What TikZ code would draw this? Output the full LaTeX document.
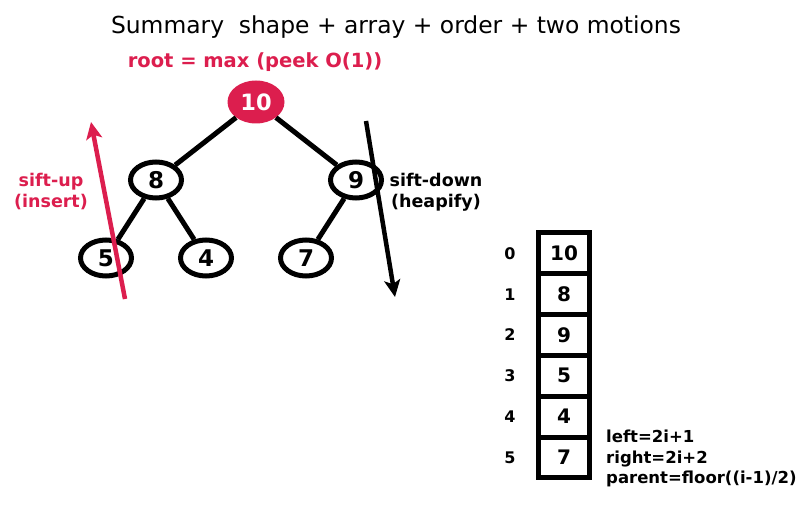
\documentclass[tikz,border=0pt]{standalone}
\usepackage{fontspec}
\setmainfont{DejaVu Sans}
\usetikzlibrary{shapes.geometric,arrows.meta}
\definecolor{crim}{RGB}{220,30,78}
\tikzset{
  hnode/.style={ellipse,draw=black,line width=5pt,minimum width=51pt,minimum height=36pt,inner sep=0pt,font=\fontsize{23}{26}\selectfont\bfseries},
  rootnode/.style={ellipse,fill=crim,minimum width=57pt,minimum height=43pt,inner sep=0pt,text=white,font=\fontsize{22.5}{26}\selectfont\bfseries},
  edge/.style={line width=5pt},
  cell/.style={rectangle,draw=black,line width=5pt,minimum width=51pt,minimum height=40.8pt,inner sep=0pt,font=\fontsize{20}{23}\selectfont\bfseries},
  idx/.style={font=\fontsize{16}{18}\selectfont\bfseries},
  lbl/.style={font=\fontsize{17.5}{21}\selectfont\bfseries,align=center},
  motion/.style={line width=4.5pt,-{Stealth[length=17pt,width=16pt,inset=4pt]}}
}
\begin{document}
\begin{tikzpicture}[x=1pt,y=-1pt]
\useasboundingbox (0,0) rectangle (810,510);
\node (title) at (396,27) {\fontsize{23.4}{27}\selectfont Summary\ \ shape + array + order + two motions};
\node[text=crim,font=\fontsize{19.5}{23}\selectfont\bfseries] (rootlbl) at (255,62) {root = max (peek O(1))};
% tree
\node[rootnode] (n0) at (256,102) {10};
\node[hnode] (n1) at (156,180) {8};
\node[hnode] (n2) at (356,180) {9};
\node[hnode] (n3) at (106,258) {5};
\node[hnode] (n4) at (206,258) {4};
\node[hnode] (n5) at (306,258) {7};
\draw[edge] (n0) -- (n1);
\draw[edge] (n0) -- (n2);
\draw[edge] (n1) -- (n3);
\draw[edge] (n1) -- (n4);
\draw[edge] (n2) -- (n5);
% motions
\coordinate (upS) at (125,299);
\coordinate (upE) at (91,122);
\coordinate (dnS) at (366,121);
\coordinate (dnE) at (395,297);
\draw[motion,draw=crim,fill=crim] (upS) -- (upE);
\draw[motion,fill=black] (dnS) -- (dnE);
\node[lbl,text=crim] (uplbl) at (51,192) {sift-up\\(insert)};
\node[lbl] (dnlbl) at (436,192) {sift-down\\(heapify)};
% array
\foreach \i/\v in {0/10,1/8,2/9,3/5,4/4,5/7}{
  \node[cell] (c\i) at (564,{253.4+\i*40.8}) {\v};
  \node[idx] (i\i) at (510,{253.4+\i*40.8}) {\i};
}
\node[font=\fontsize{16.5}{20.5}\selectfont\bfseries,align=left,anchor=north west,inner sep=0pt] (formula) at (606,430) {left=2i+1\\right=2i+2\\parent=floor((i-1)/2)};
\end{tikzpicture}
\end{document}
